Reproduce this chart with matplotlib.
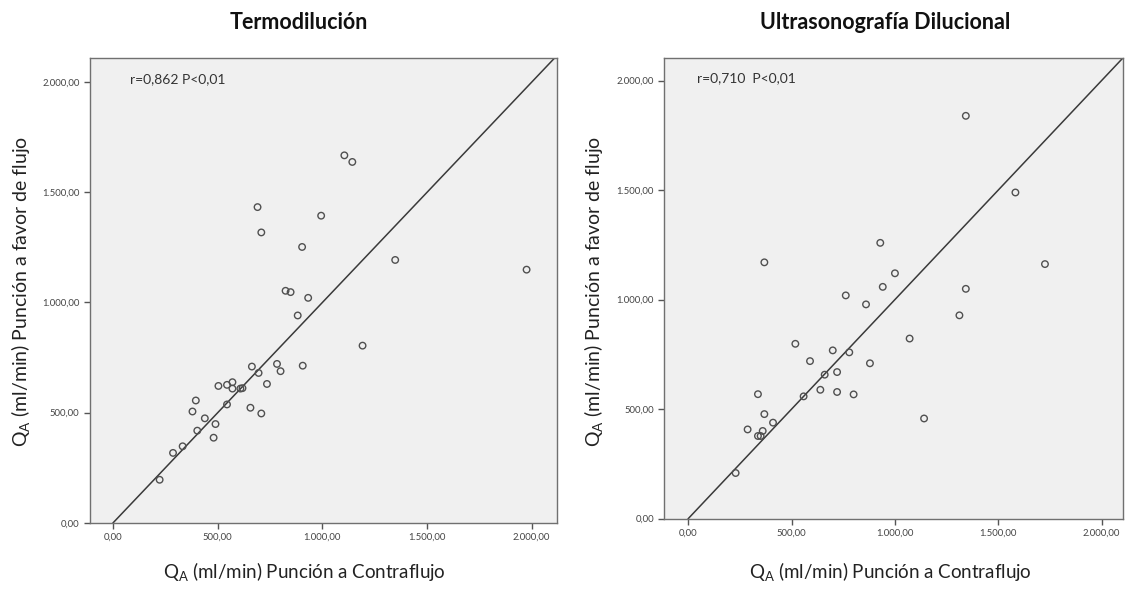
import numpy as np
import matplotlib
matplotlib.use("Agg")
import matplotlib.pyplot as plt
from matplotlib.ticker import FuncFormatter

plt.rcParams['font.family'] = ['Lato', 'DejaVu Sans']
plt.rcParams['mathtext.fontset'] = 'custom'
plt.rcParams['mathtext.rm'] = 'Lato'
plt.rcParams['mathtext.it'] = 'Lato'

# Termodilución
termo_x = [1105, 1143, 690, 708, 994, 903, 1348, 824, 848, 932, 882, 1976, 1192,
           663, 695, 783, 800, 906, 735, 503, 544, 570, 570, 608, 618, 544, 656,
           708, 395, 379, 438, 489, 402, 480, 332, 286, 222]
termo_y = [1668, 1638, 1433, 1318, 1394, 1252, 1193, 1053, 1047, 1021, 941, 1149, 804,
           709, 680, 721, 688, 713, 630, 621, 626, 638, 609, 609, 611, 537, 522,
           496, 555, 505, 474, 448, 418, 386, 347, 317, 195]

# Ultrasonografía dilucional
ultra_x = [1343, 1583, 929, 368, 1000, 941, 1343, 762, 860, 1312, 1071, 1726, 518,
           699, 779, 589, 879, 720, 660, 639, 720, 800, 558, 337, 368, 410, 287,
           360, 337, 350, 1141, 229]
ultra_y = [1839, 1489, 1259, 1170, 1120, 1058, 1049, 1019, 978, 928, 822, 1162, 798,
           768, 759, 719, 709, 669, 657, 588, 578, 567, 558, 568, 477, 438, 407,
           400, 377, 377, 457, 208]

titles = ["Termodilución", "Ultrasonografía Dilucional"]
stats = ["r=0,862 P<0,01", "r=0,710  P<0,01"]
ticks = [0, 500, 1000, 1500, 2000]
xlabel = r"Q$_\mathrm{A}$ (ml/min) Punción a Contraflujo"
ylabel = r"Q$_\mathrm{A}$ (ml/min) Punción a favor de flujo"


def es_fmt(v, pos):
    s = f"{v:,.2f}"
    return s.replace(",", "X").replace(".", ",").replace("X", ".")


fig = plt.figure(figsize=(11.26, 5.94), dpi=100)
fig.set_facecolor('white')

axes_pos = [[0.0799, 0.120, 0.4147, 0.782], [0.590, 0.127, 0.4074, 0.7757]]
limits = [((-111, 2121), (0, 2109)), ((-116, 2104), (0, 2104))]
datasets = [(termo_x, termo_y), (ultra_x, ultra_y)]
stat_x = [0.086, 0.072]
title_x = [0.265, 0.786]
ylabel_x = [0.018, 0.527]
xlabel_y = [0.038, 0.038]

for i in range(2):
    ax = fig.add_axes(axes_pos[i])
    ax.set_facecolor('#f0f0f0')
    xs, ys = datasets[i]
    (x0, x1), (y0, y1) = limits[i]
    lim = min(x1, y1)
    ax.plot([0, lim], [0, lim], color='#3a3a3a', lw=1.1, zorder=2)
    ax.scatter(xs, ys, s=22, facecolors='none', edgecolors='#505050',
               linewidths=1.0, zorder=3)
    ax.set_xlim(x0, x1)
    ax.set_ylim(y0, y1)
    ax.set_xticks(ticks)
    ax.set_yticks(ticks)
    ax.xaxis.set_major_formatter(FuncFormatter(es_fmt))
    ax.yaxis.set_major_formatter(FuncFormatter(es_fmt))
    ax.tick_params(direction='out', length=4, width=1, colors='#555555',
                   labelsize=6.8, labelcolor='#444444')
    for sp in ax.spines.values():
        sp.set_color('#707070')
        sp.set_linewidth(1.0)
    ax.text(stat_x[i], 0.955, stats[i], transform=ax.transAxes, fontsize=10,
            color='#333333', va='center', ha='left')
    fig.text(title_x[i], 0.962, titles[i], fontsize=15.5, fontweight='bold',
             ha='center', va='center', color='#111111')
    fig.text(title_x[i] + 0.005, xlabel_y[i], xlabel, fontsize=13.5,
             ha='center', va='center', color='#222222')
    fig.text(ylabel_x[i], 0.51, ylabel, fontsize=14, rotation=90,
             ha='center', va='center', color='#222222')

plt.savefig('out.png', dpi=100)
